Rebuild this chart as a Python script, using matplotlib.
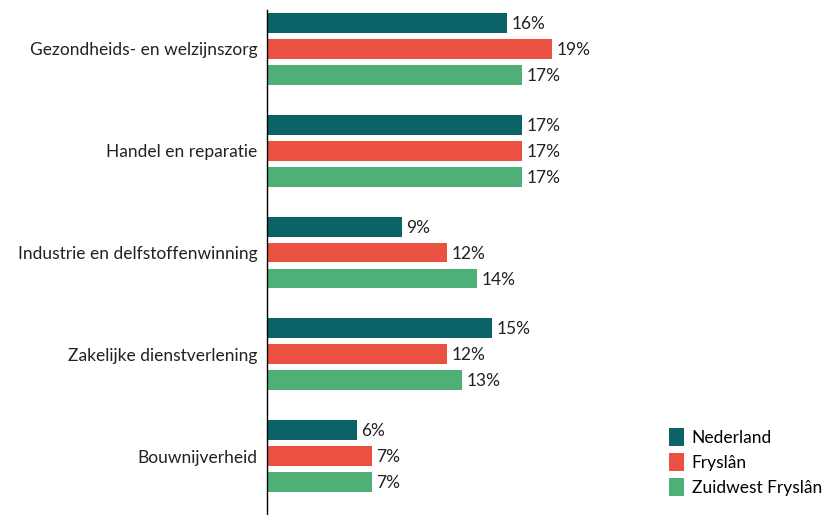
import numpy as np
import matplotlib.pyplot as plt
from matplotlib.patches import Patch

plt.rcParams['font.family'] = ['Lato', 'DejaVu Sans']

categories = ["Gezondheids- en welzijnszorg", "Handel en reparatie",
              "Industrie en delfstoffenwinning", "Zakelijke dienstverlening",
              "Bouwnijverheid"]
series = ["Nederland", "Fryslân", "Zuidwest Fryslân"]
nederland = [16, 17, 9, 15, 6]
fryslan = [19, 17, 12, 12, 7]
zw_fryslan = [17, 17, 14, 13, 7]
colors = ["#0b6367", "#eb5140", "#4eb077"]

W, H = 825, 515
fig = plt.figure(figsize=(W / 100, H / 100), dpi=100)
ax = fig.add_axes([267 / W, 0, 375 / W, 505 / H])

y = np.arange(len(categories))
offset = 0.255
height = 0.196
for k, (vals, c) in enumerate(zip([nederland, fryslan, zw_fryslan], colors)):
    pos = y + (k - 1) * offset
    ax.barh(pos, vals, height=height, color=c)
    for p, v in zip(pos, vals):
        ax.text(v + 0.3, p + 0.01, f"{v}%", va='center', ha='left', fontsize=12.5, color='#222222')

ax.set_xlim(0, 25)
ax.set_ylim(4.578, -0.382)
ax.set_yticks(y)
ax.set_yticklabels(categories, fontsize=12.5, color='#222222')
ax.tick_params(axis='y', length=0, pad=7)
ax.set_xticks([])
for s in ['top', 'right', 'bottom']:
    ax.spines[s].set_visible(False)
ax.spines['left'].set_color('black')
ax.spines['left'].set_linewidth(1)

handles = [Patch(facecolor=c, label=s) for c, s in zip(colors, series)]
fig.legend(handles=handles, loc='upper left', bbox_to_anchor=(662 / W, 1 - 421 / H),
           frameon=False, fontsize=12.5, handlelength=0.85, handleheight=1.25,
           handletextpad=0.45, labelspacing=0.38, borderaxespad=0)

fig.savefig("out.png", dpi=100)
